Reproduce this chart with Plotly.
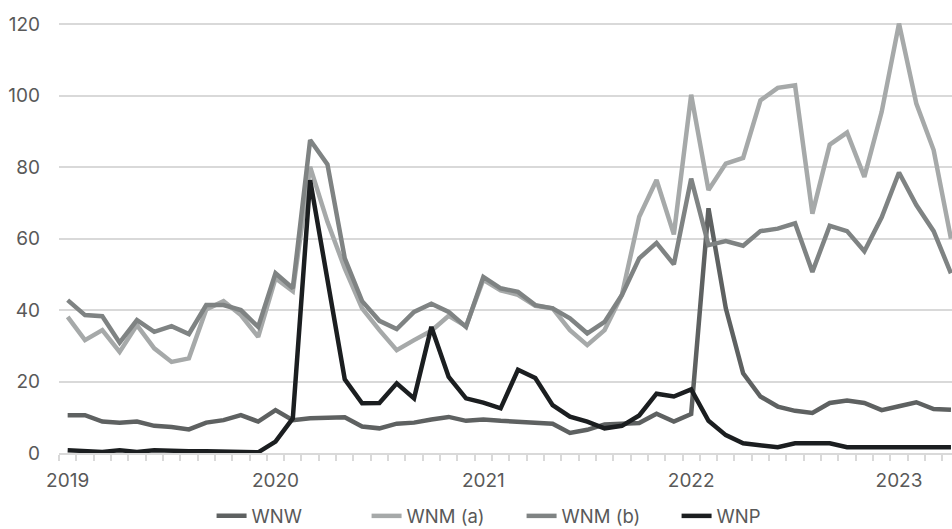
import plotly.graph_objects as go

# Monthly observations, Jan 2019 .. Apr 2023
months = [f"{y}-{m:02d}" for y in range(2019, 2024) for m in range(1, 13)][:52]
year_labels = ["2019", "2020", "2021", "2022", "2023"]

wnw = [10.6, 10.6, 8.8, 8.5, 8.8, 7.6, 7.3, 6.6, 8.5, 9.2, 10.6, 8.8,
       12.0, 9.2, 9.7, 10.0, 10.0, 7.4, 6.9, 8.2, 8.5, 9.4, 10.1, 9.0,
       9.4, 9.0, 8.7, 8.4, 8.2, 5.6, 6.5, 8.0, 8.2, 8.4, 11.0, 8.8,
       10.9, 68.5, 40.5, 22.3, 15.8, 13.0, 11.8, 11.2, 14.0, 14.7, 14.0, 12.0,
       13.1, 14.2, 12.3, 12.1]

wnm_a = [38.1, 31.6, 34.4, 28.3, 35.8, 29.3, 25.5, 26.5, 40.2, 42.5, 38.6, 32.5,
         48.9, 45.3, 80.1, 64.7, 51.7, 40.5, 34.4, 28.8, 31.6, 34.2, 38.4, 35.5,
         48.5, 45.5, 44.3, 41.2, 40.5, 34.4, 30.2, 34.4, 44.2, 66.1, 76.4, 61.2,
         100.3, 73.6, 81.0, 82.6, 98.7, 102.2, 102.9, 67.0, 86.3, 89.7, 77.3, 95.5,
         120.2, 97.8, 84.8, 60.0]

wnm_b = [42.8, 38.6, 38.3, 30.9, 37.2, 33.9, 35.5, 33.3, 41.4, 41.4, 40.0, 35.3,
         50.3, 46.1, 87.6, 80.8, 54.5, 42.5, 37.0, 34.7, 39.5, 41.8, 39.5, 35.3,
         49.3, 46.1, 45.1, 41.4, 40.5, 37.7, 33.5, 36.7, 44.2, 54.5, 58.8, 52.8,
         76.8, 58.2, 59.3, 58.0, 62.1, 62.8, 64.3, 50.7, 63.6, 62.1, 56.5, 66.0,
         78.5, 69.4, 62.1, 50.3]

wnp = [0.8, 0.6, 0.3, 0.8, 0.3, 0.8, 0.5, 0.5, 0.5, 0.4, 0.2, 0.2,
       3.2, 9.7, 76.4, 47.9, 20.6, 13.9, 14.0, 19.5, 15.3, 35.3, 21.3, 15.3,
       14.1, 12.5, 23.3, 21.0, 13.4, 10.2, 8.8, 6.9, 7.6, 10.5, 16.6, 15.8,
       17.8, 9.0, 5.0, 2.7, 2.2, 1.6, 2.7, 2.7, 2.7, 1.6, 1.6, 1.6,
       1.6, 1.6, 1.6, 1.6]

series_names = ["WNW", "WNM (a)", "WNM (b)", "WNP"]
series_values = [wnw, wnm_a, wnm_b, wnp]
series_colors = ["#5e6161", "#a6a9a9", "#7f8383", "#1b1e20"]

x = list(range(len(months)))
year_positions = [months.index(f"{y}-01") for y in year_labels]

fig = go.Figure()
for name, vals, col in zip(series_names, series_values, series_colors):
    fig.add_trace(go.Scatter(
        x=x, y=vals, name=name, mode="lines",
        line=dict(color=col, width=4.5, shape="linear"),
        hoverinfo="x+y+name",
    ))

font_family = "Inter, 'Open Sans', sans-serif"
text_color = "#595959"
grid_color = "#d9d9d9"

fig.update_layout(
    width=952, height=529,
    margin=dict(l=59, r=0, t=10, b=76, autoexpand=False),
    paper_bgcolor="white", plot_bgcolor="white",
    font=dict(family=font_family, size=19, color=text_color),
    showlegend=True,
    legend=dict(
        orientation="h", x=0.518, xanchor="center", y=-0.143, yanchor="middle",
        font=dict(size=18.5, color=text_color),
        entrywidth=110, entrywidthmode="pixels",
        bgcolor="rgba(0,0,0,0)", traceorder="normal",
    ),
    xaxis=dict(
        range=[-0.5, 51.06],
        tickmode="array", tickvals=year_positions, ticktext=year_labels,
        ticks="", showgrid=False, zeroline=False,
        showline=True, linecolor=grid_color, linewidth=2,
        ticklabelstandoff=9,
        tickfont=dict(size=19, color=text_color),
        minor=dict(tickmode="array", tickvals=[i - 0.5 for i in range(len(months) + 1)],
                   ticks="outside", ticklen=6, tickwidth=1.5, tickcolor=grid_color,
                   showgrid=False),
    ),
    yaxis=dict(
        range=[0, 124.0],
        tickmode="array", tickvals=[0, 20, 40, 60, 80, 100, 120],
        ticks="", showgrid=True, gridcolor=grid_color, gridwidth=2,
        zeroline=False, showline=False,
        ticklabelstandoff=18,
        tickfont=dict(size=19, color=text_color),
    ),
)

fig.write_html(
    "out.html",
    config={"displayModeBar": False},
    post_script="document.body.style.margin='0';document.body.style.overflow='hidden';",
)
